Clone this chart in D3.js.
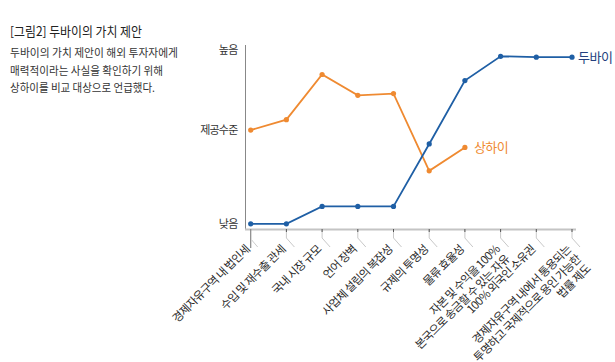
<!DOCTYPE html>
<html><head><meta charset="utf-8">
<script src="https://cdn.jsdelivr.net/npm/d3@7"></script>
<style>
body{margin:0;background:#fff;}
text{font-family:"Noto Sans CJK KR","Noto Sans",sans-serif;}
</style></head>
<body><svg id="c" width="615" height="362"></svg>
<script>
const categories = [
  ["경제자유구역 내 법인세"],
  ["수입 및 재수출 관세"],
  ["국내 시장 규모"],
  ["언어 장벽"],
  ["사업체 설립의 복잡성"],
  ["규제의 투명성"],
  ["물류 효율성"],
  ["자본 및 수익을 100%", "본국으로 송금할 수 있는 자유"],
  ["100% 외국인 소유권"],
  ["경제자유구역 내에서 통용되는", "투명하고 국제적으로 용인 가능한", "법률 제도"]
];
const dubai = [0, 0, 1, 1, 1, 4.6, 8.25, 9.65, 9.6, 9.6];
const shanghai = [5.4, 6.0, 8.6, 7.4, 7.5, 3.05, 4.4];
const yTicks = [0, 5.4, 10];
const yTickLabels = ["낮음", "제공수준", "높음"];
const titleText = "[그림2] 두바이의 가치 제안";
const bodyLines = ["두바이의 가치 제안이 해외 투자자에게", "매력적이라는 사실을 확인하기 위해", "상하이를 비교 대상으로 언급했다."];
const seriesNames = ["두바이", "상하이"];

const svg = d3.select("#c");
const idx = categories.map((d,i)=>i);
const x = d3.scalePoint().domain(idx).range([250.7, 572]);
const y = d3.scaleLinear().domain([-0.3, 10.3]).range([229, 45]);

// title + body
svg.append("text").attr("x", 10).attr("y", 36).attr("font-size", 13).attr("fill", "#222")
  .attr("textLength", 132).attr("lengthAdjust", "spacingAndGlyphs").text(titleText);
const bodyLens = [168, 153, 145];
bodyLines.forEach((t,i)=>{
  svg.append("text").attr("x", 10).attr("y", 57 + i*17.5).attr("font-size", 11.5).attr("fill", "#333")
    .attr("textLength", bodyLens[i]).attr("lengthAdjust", "spacingAndGlyphs").text(t);
});

// axes
svg.append("line").attr("x1", 245.5).attr("x2", 245.5).attr("y1", y(10.3)).attr("y2", y(-0.3))
  .attr("stroke", "#888").attr("stroke-width", 1);
svg.append("line").attr("x1", 245).attr("x2", 576).attr("y1", 229.5).attr("y2", 229.5)
  .attr("stroke", "#c4c4c4").attr("stroke-width", 2);

const yAxis = d3.axisLeft(y).tickValues(yTicks).tickSize(0).tickPadding(8)
  .tickFormat((d,i)=>yTickLabels[i]);
const ya = svg.append("g").attr("transform", "translate(245.5,0)").call(yAxis);
ya.select(".domain").remove();
ya.selectAll("text").attr("font-size", 11).attr("fill", "#333").attr("letter-spacing", -0.8)
  .attr("font-family", '"Noto Sans CJK KR",sans-serif');

// x ticks
const tg = svg.append("g");
idx.forEach(i=>{
  const px = x(i);
  if(i===0){
    tg.append("line").attr("x1", px).attr("x2", px).attr("y1", 229).attr("y2", 248).attr("stroke", "#888").attr("stroke-width", 1.2);
    tg.append("path").attr("d", `M${px+1},240 L${px+7},247`).attr("fill","none").attr("stroke","#ccc").attr("stroke-width",1);
  } else {
    tg.append("path").attr("d", `M${px},230 L${px},238 L${px+8},247`).attr("fill","none").attr("stroke","#c8c8c8").attr("stroke-width",1);
    tg.append("line").attr("x1", px).attr("x2", px).attr("y1", 229).attr("y2", 232).attr("stroke", "#555").attr("stroke-width", 1);
  }
});
const lg = svg.append("g");
categories.forEach((lines,i)=>{
  const t = lg.append("text").attr("transform", `translate(${x(i)-3},247) rotate(-45)`)
    .attr("text-anchor", "end").attr("font-size", 11.5).attr("fill", "#2a2a2a").attr("letter-spacing", -0.6);
  lines.forEach((l,j)=>{
    t.append("tspan").attr("x", 0).attr("dy", j===0 ? "0.35em" : "1.2em").text(l);
  });
});

// lines
const blue = "#1f5fa5", orange = "#ef8a31";
const line = d3.line().x((d,i)=>x(i)).y(d=>y(d));
svg.append("path").datum(shanghai).attr("d", line).attr("fill","none").attr("stroke", orange).attr("stroke-width", 1.8);
svg.append("path").datum(dubai).attr("d", line).attr("fill","none").attr("stroke", blue).attr("stroke-width", 1.8);
svg.selectAll(".do").data(shanghai).join("circle").attr("cx",(d,i)=>x(i)).attr("cy",d=>y(d)).attr("r",2.6).attr("fill",orange);
svg.selectAll(".db").data(dubai).join("circle").attr("cx",(d,i)=>x(i)).attr("cy",d=>y(d)).attr("r",2.6).attr("fill",blue);

svg.append("text").attr("x", x(dubai.length-1)+6).attr("y", y(dubai[dubai.length-1])).attr("dy","0.35em")
  .attr("font-size", 13).attr("fill", "#253f7e").attr("letter-spacing", -0.5).text(seriesNames[0]);
svg.append("text").attr("x", x(shanghai.length-1)+9).attr("y", y(shanghai[shanghai.length-1])).attr("dy","0.35em")
  .attr("font-size", 13).attr("fill", orange).attr("letter-spacing", -0.5).text(seriesNames[1]);
</script></body></html>
